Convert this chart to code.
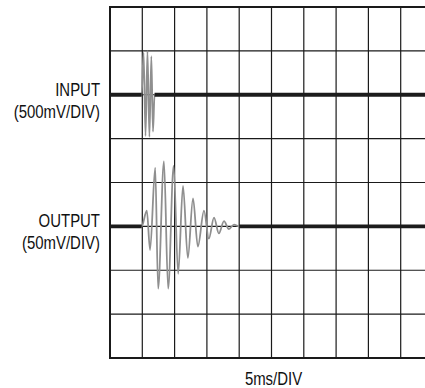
<!DOCTYPE html>
<html lang="en">
  <head>
    <meta charset="UTF-8" />
    <title>Input / Output scope capture</title>
    <style>
      body {
        margin: 0;
        background: #fff;
      }
      svg {
        display: block;
      }
      text {
        font-family: "Liberation Sans Narrow", "Arial Narrow", "Liberation Sans", sans-serif;
        font-size: 18px;
        fill: #111;
      }
    </style>
  </head>
  <body>
    <svg id="chart"></svg>

    <script src="https://d3js.org/d3.v7.min.js"></script>
    <script>
      const width = 425;
      const height = 388;

      // screen: 10 x 8 divisions, 5ms/div horizontally
      const timeDivs = 10;
      const ampDivs = 8;
      const msPerDiv = 5;

      // input channel, 500mV/div, trace sits 2 div above centre
      const inputScale = 500;
      const inputOffsetDiv = 2;
      const inputTimes = [0, 4.9, 5.2, 5.5, 5.8, 6.1, 6.4, 6.65, 6.9, 50];
      const inputValues = [0, 0, 480, -470, 500, -480, 440, -420, 0, 0];

      // output channel, 50mV/div, trace sits 1 div below centre
      const outputScale = 50;
      const outputOffsetDiv = -1;
      const outputTimes = [
        0, 4.9, 5.7, 6.2, 7.0, 7.45, 8.35, 9.0, 9.85, 10.55, 11.3, 12.05,
        12.85, 13.6, 14.55, 15.3, 16.1, 16.85, 17.65, 18.4, 19.2, 20.0, 50,
      ];
      const outputValues = [
        0, 0, 18, -27, 67, -71, 74, -71, 69, -54, 46, -36, 32, -23, 18, -14,
        10, -8, 6, -3, 2, 0, 0,
      ];

      const labels = [
        { lines: ["INPUT", "(500mV/DIV)"], div: inputOffsetDiv },
        { lines: ["OUTPUT", "(50mV/DIV)"], div: outputOffsetDiv },
      ];
      const xLabel = "5ms/DIV";

      const gridLeft = 110;
      const gridTop = 7;
      const gridW = 323;
      const gridH = 351;
      const narrow = 0.83; // condensed type, squeeze horizontally

      const svg = d3
        .select("#chart")
        .attr("width", width)
        .attr("height", height)
        .attr("viewBox", `0 0 ${width} ${height}`);

      const x = d3
        .scaleLinear()
        .domain([0, timeDivs * msPerDiv])
        .range([gridLeft, gridLeft + gridW]);

      // position in divisions from centre (+ is up)
      const yDiv = d3
        .scaleLinear()
        .domain([-ampDivs / 2, ampDivs / 2])
        .range([gridTop + gridH, gridTop]);

      // grid
      const grid = svg.append("g").attr("stroke", "#1a1a1a").attr("fill", "none");
      grid
        .selectAll("line.v")
        .data(d3.range(1, timeDivs))
        .join("line")
        .attr("class", "v")
        .attr("x1", (d) => x(d * msPerDiv))
        .attr("x2", (d) => x(d * msPerDiv))
        .attr("y1", yDiv(ampDivs / 2))
        .attr("y2", yDiv(-ampDivs / 2))
        .attr("stroke-width", 1.2);
      grid
        .selectAll("line.h")
        .data(d3.range(1, ampDivs))
        .join("line")
        .attr("class", "h")
        .attr("x1", x(0))
        .attr("x2", x(timeDivs * msPerDiv))
        .attr("y1", (d) => yDiv(d - ampDivs / 2))
        .attr("y2", (d) => yDiv(d - ampDivs / 2))
        .attr("stroke-width", 1.2);
      grid
        .append("rect")
        .attr("x", x(0))
        .attr("y", yDiv(ampDivs / 2))
        .attr("width", x(timeDivs * msPerDiv) - x(0))
        .attr("height", yDiv(-ampDivs / 2) - yDiv(ampDivs / 2))
        .attr("stroke-width", 2);

      function drawTrace(times, values, scale, offsetDiv) {
        const pts = times.map((t, i) => ({ t, v: values[i] }));
        const y = (d) => yDiv(d.v / scale + offsetDiv);

        const burst = d3
          .line()
          .x((d) => x(d.t))
          .y(y)
          .curve(d3.curveMonotoneX);
        svg
          .append("path")
          .attr("d", burst(pts))
          .attr("fill", "none")
          .attr("stroke", "#8f8f8f")
          .attr("stroke-width", 1.8);

        const flat = d3
          .line()
          .defined((d) => d.v === 0)
          .x((d) => x(d.t))
          .y(y);
        svg
          .append("path")
          .attr("d", flat(pts))
          .attr("fill", "none")
          .attr("stroke", "#1c1c1c")
          .attr("stroke-width", 3.8);
      }

      drawTrace(inputTimes, inputValues, inputScale, inputOffsetDiv);
      drawTrace(outputTimes, outputValues, outputScale, outputOffsetDiv);

      // channel labels
      labels.forEach((l) => {
        const t = svg
          .append("text")
          .attr("text-anchor", "end")
          .attr("transform", `translate(${gridLeft - 10},${yDiv(l.div) + 1}) scale(${narrow},1)`);
        l.lines.forEach((s, i) => {
          t.append("tspan")
            .attr("x", 0)
            .attr("dy", i === 0 ? 0 : 22)
            .text(s);
        });
      });

      svg
        .append("text")
        .attr("text-anchor", "middle")
        .attr("transform", `translate(${x((timeDivs * msPerDiv) / 2) + 2},385) scale(${narrow},1)`)
        .text(xLabel);
    </script>
  </body>
</html>
